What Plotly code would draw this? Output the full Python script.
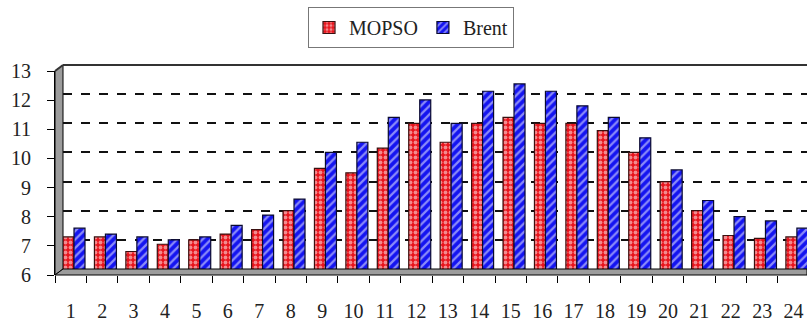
import plotly.graph_objects as go

categories = [str(i) for i in range(1, 25)]
mopso = [7.1, 7.1, 6.6, 6.85, 7.0, 7.2, 7.35, 8.0, 9.45, 9.3, 10.15, 11.0,
         10.35, 11.0, 11.2, 11.0, 11.0, 10.75, 10.0, 9.0, 8.0, 7.15, 7.05, 7.1]
brent = [7.4, 7.2, 7.1, 7.0, 7.1, 7.5, 7.85, 8.4, 10.0, 10.35, 11.2, 11.8,
         11.0, 12.1, 12.35, 12.1, 11.6, 11.2, 10.5, 9.4, 8.35, 7.8, 7.65, 7.4]
y_ticks = [6, 7, 8, 9, 10, 11, 12, 13]

FONT = "Liberation Serif, Times New Roman, serif"

fig = go.Figure()
fig.add_trace(go.Bar(
    x=categories, y=mopso, name="MOPSO",
    marker=dict(color="#e8141c", line=dict(color="#3a1010", width=1.2),
                pattern=dict(shape=".", fgcolor="white", bgcolor="#e8141c",
                             size=5, solidity=0.45, fillmode="overlay")),
))
fig.add_trace(go.Bar(
    x=categories, y=brent, name="Brent",
    marker=dict(color="#1414f0", line=dict(color="#0a0a30", width=1.2),
                pattern=dict(shape="/", fgcolor="white", bgcolor="#1414f0",
                             size=6, solidity=0.38, fillmode="overlay")),
))
# invisible trace carrying the front (labelled) axes
fig.add_trace(go.Scatter(x=categories, y=[None] * len(categories), xaxis="x2", yaxis="y2",
                         showlegend=False, hoverinfo="skip"))

wall = "#9c9c9c"
dx = 8 / 752
dy = 6 / 210
n_vis = (807 - 55) / 31.43
fig.update_layout(
    width=807, height=323,
    margin=dict(l=55, r=0, t=65, b=48, autoexpand=False),
    paper_bgcolor="white", plot_bgcolor="rgba(0,0,0,0)",
    barmode="group", bargap=0.3, bargroupgap=0,
    font=dict(family=FONT, size=20, color="#222"),
    showlegend=True,
    legend=dict(orientation="h", xref="container", yref="container",
                x=411 / 807, xanchor="center", y=1 - 7 / 323, yanchor="top",
                bordercolor="#777", borderwidth=1, bgcolor="white",
                font=dict(family=FONT, size=20, color="#222"),
                itemwidth=30, tracegroupgap=0),
    xaxis=dict(type="category", domain=[dx, 1], range=[-0.35, -0.35 + n_vis - 8 / 31.43],
               showticklabels=False, ticks="", showline=False, showgrid=False,
               automargin=False),
    yaxis=dict(domain=[dy, 1], range=[6, 13], tickvals=y_ticks[1:-1],
               showticklabels=False, showgrid=True, gridcolor="#111",
               griddash="dash", gridwidth=1.6, zeroline=False, showline=False,
               automargin=False),
    xaxis2=dict(type="category", domain=[0, 1], range=[-0.5, -0.5 + n_vis],
                anchor="y2", categoryorder="array", categoryarray=categories,
                tickson="boundaries", ticks="outside", ticklen=7, tickcolor="black",
                showline=False, showgrid=False, ticklabelstandoff=22,
                automargin=False,
                tickfont=dict(family=FONT, size=20, color="#222")),
    yaxis2=dict(domain=[0, 1 - dy], range=[6, 13], anchor="x2",
                tickvals=y_ticks, ticks="outside", ticklen=7, tickcolor="black",
                showline=True, linecolor="black", showgrid=False, zeroline=False,
                ticklabelstandoff=12, automargin=False,
                tickfont=dict(family=FONT, size=20, color="#222")),
    shapes=[
        dict(type="path", xref="paper", yref="paper", layer="above",
             path=f"M 0 0 L 1 0 L 1 {dy} L {dx} {dy} Z",
             fillcolor=wall, line=dict(color="black", width=1)),
        dict(type="path", xref="paper", yref="paper", layer="below",
             path=f"M 0 0 L {dx} {dy} L {dx} 1 L 0 {1-dy} Z",
             fillcolor=wall, line=dict(color="black", width=1)),
        dict(type="line", xref="paper", yref="paper", x0=dx, x1=1, y0=1, y1=1,
             line=dict(color="#333", width=2)),
        dict(type="line", xref="paper", yref="paper", x0=0, x1=dx, y0=1 - dy, y1=1,
             line=dict(color="#333", width=2)),
    ],
)

fig.write_html("out.html", config={"displayModeBar": False},
               post_script="document.body.style.margin='0';document.body.style.overflow='hidden';")
